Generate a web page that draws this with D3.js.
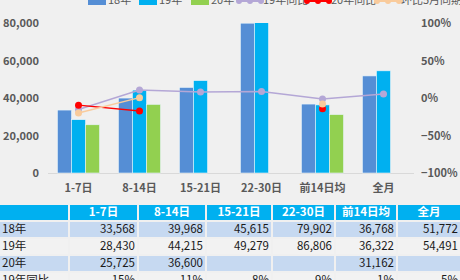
<!DOCTYPE html>
<html>
<head>
<meta charset="utf-8">
<script src="https://cdn.jsdelivr.net/npm/d3@7"></script>
<style>
  body { margin: 0; background: #f0f0f0; }
  svg { display: block; font-family: "Noto Sans CJK SC", "Noto Sans", sans-serif; }
</style>
</head>
<body>
<div id="chart"></div>
<script>
// data
const cats = ['1-7日', '8-14日', '15-21日', '22-30日', '前14日均', '全月'];
const s18 = [33568, 39968, 45615, 79902, 36768, 51772];
const s19 = [28430, 44215, 49279, 86806, 36322, 54491];
const s20 = [25725, 36600, null, null, 31162, null];
const yoy19 = [-0.153, 0.106, 0.080, 0.086, -0.012, 0.052];
const yoy20 = [-0.095, -0.172, null, null, -0.142, null];
const mom = [-0.20, 0.005, null, null, -0.08, null];
const yoy19Text = ['-15%', '11%', '8%', '9%', '-1%', '5%'];
const leftTicks = [0, 20000, 40000, 60000, 80000];
const rightTicks = [-1, -0.5, 0, 0.5, 1];

const barSeries = [
  {name: '18年', values: s18, color: '#558ed5'},
  {name: '19年', values: s19, color: '#00b0f0'},
  {name: '20年', values: s20, color: '#92d050'}
];
const lineSeries = [
  {name: '19年同比', values: yoy19, color: '#b4a7d6'},
  {name: '20年同比', values: yoy20, color: '#ff0000'},
  {name: '环比5月同期', values: mom, color: '#f9cb9c'}
];

const width = 460, height = 280;

const svg = d3.select('#chart')
  .append('svg')
  .attr('width', width)
  .attr('height', height);

svg.append('rect')
  .attr('width', width).attr('height', height)
  .attr('fill', '#f0f0f0');

const x0 = d3.scaleBand()
  .domain(cats)
  .range([48, 414])
  .paddingInner(0.31)
  .paddingOuter(0.155);

const x1 = d3.scaleBand()
  .domain(barSeries.map(d => d.name))
  .range([0, x0.bandwidth()]);

const y = d3.scaleLinear().domain([0, 80000]).range([173, 23]);
const y2 = d3.scaleLinear().domain([-1, 1]).range([173, 23]);

const fmt = d3.format(',');
const pct = d3.format('.0%');

// plot area clip (axis max is 80,000, taller bars get cut)
svg.append('clipPath').attr('id', 'plot')
  .append('rect')
  .attr('x', 40).attr('y', y(80000))
  .attr('width', 380).attr('height', y(0) - y(80000) + 1);

// left axis
svg.append('g')
  .attr('transform', 'translate(39,0)')
  .call(d3.axisLeft(y).tickValues(leftTicks).tickFormat(fmt).tickSize(0).tickPadding(0))
  .call(g => g.select('.domain').remove())
  .selectAll('text')
  .attr('font-size', 11).attr('font-weight', 'bold').attr('fill', '#595959')
  .attr('font-family', '"Noto Sans CJK SC", sans-serif');

// right axis
svg.append('g')
  .attr('transform', 'translate(421,0)')
  .call(d3.axisRight(y2).tickValues(rightTicks).tickFormat(pct).tickSize(0).tickPadding(0))
  .call(g => g.select('.domain').remove())
  .selectAll('text')
  .attr('font-size', 11).attr('font-weight', 'bold').attr('fill', '#595959')
  .attr('font-family', '"Noto Sans CJK SC", sans-serif');

// baseline
svg.append('line')
  .attr('x1', 48).attr('x2', 414)
  .attr('y1', y(0) + 0.5).attr('y2', y(0) + 0.5)
  .attr('stroke', '#d9d9d9');

// bars
const groups = svg.append('g')
  .attr('clip-path', 'url(#plot)')
  .selectAll('g')
  .data(cats)
  .join('g')
  .attr('transform', d => `translate(${x0(d)},0)`);

groups.selectAll('rect')
  .data((d, i) => barSeries.map(s => ({name: s.name, v: s.values[i], color: s.color})).filter(b => b.v != null))
  .join('rect')
  .attr('x', d => x1(d.name))
  .attr('y', d => y(d.v))
  .attr('width', x1.bandwidth())
  .attr('height', d => y(0) - y(d.v))
  .attr('fill', d => d.color)
  .attr('stroke', '#e8f4fb')
  .attr('stroke-width', 0.6);

// category labels
svg.append('g')
  .attr('transform', `translate(0,${y(0)})`)
  .call(d3.axisBottom(x0).tickSize(0).tickPadding(11))
  .call(g => g.select('.domain').remove())
  .selectAll('text')
  .attr('font-size', 11).attr('font-weight', 'bold').attr('fill', '#595959')
  .attr('font-family', '"Noto Sans CJK SC", sans-serif');

// lines
const cx = i => x0(cats[i]) + x0.bandwidth() / 2;
const line = d3.line()
  .defined(d => d != null)
  .x((d, i) => cx(i))
  .y(d => y2(d));

lineSeries.forEach(s => {
  svg.append('path')
    .datum(s.values)
    .attr('fill', 'none')
    .attr('stroke', s.color)
    .attr('stroke-width', 1.5)
    .attr('d', line);
  svg.append('g')
    .selectAll('circle')
    .data(s.values.map((v, i) => ({v, i})).filter(d => d.v != null))
    .join('circle')
    .attr('cx', d => cx(d.i))
    .attr('cy', d => y2(d.v))
    .attr('r', 3.5)
    .attr('fill', s.color);
});

// legend (top edge is cut in the original, like here)
const legend = svg.append('g').attr('font-size', 11).attr('fill', '#595959');
const legendX = [88, 139, 191];
barSeries.forEach((s, i) => {
  legend.append('rect')
    .attr('x', legendX[i]).attr('y', -5)
    .attr('width', 18).attr('height', 10)
    .attr('fill', s.color);
  legend.append('text')
    .attr('x', legendX[i] + 20).attr('y', 1.5)
    .attr('dominant-baseline', 'middle')
    .text(s.name);
});
const legendLX = [239, 307, 377];
lineSeries.forEach((s, i) => {
  const g = legend.append('g').attr('transform', `translate(${legendLX[i]},1)`);
  g.append('line').attr('x1', 0).attr('x2', 22).attr('stroke', s.color).attr('stroke-width', 2);
  [0, 11, 22].forEach(px => g.append('circle').attr('cx', px).attr('r', 3).attr('fill', s.color));
  legend.append('text')
    .attr('x', legendLX[i] + 24).attr('y', 1.5)
    .attr('dominant-baseline', 'middle')
    .text(s.name);
});

// table
const colEdges = [0, 70, 139, 207, 273, 336, 398, 462];
const rowTops = [205, 222, 239, 256, 273];
const rowH = 15;
const rows = [
  {label: '18年', vals: s18.map(v => fmt(v)), bg: '#c6d9f1'},
  {label: '19年', vals: s19.map(v => fmt(v)), bg: '#f2f2f2'},
  {label: '20年', vals: s20.map(v => v == null ? '' : fmt(v)), bg: '#c6d9f1'},
  {label: '19年同比', vals: yoy19Text, bg: '#f2f2f2'}
];

const table = svg.append('g').attr('font-size', 11.5);

// header
colEdges.slice(0, -1).forEach((x, c) => {
  table.append('rect')
    .attr('x', x).attr('y', rowTops[0])
    .attr('width', colEdges[c + 1] - x - 2).attr('height', rowH)
    .attr('fill', '#00b0f0');
  if (c > 0) {
    table.append('text')
      .attr('x', (x + colEdges[c + 1] - 2) / 2).attr('y', rowTops[0] + rowH / 2 + 0.5)
      .attr('text-anchor', 'middle').attr('dominant-baseline', 'middle')
      .attr('fill', '#fff').attr('font-weight', 'bold')
      .text(cats[c - 1]);
  }
});

rows.forEach((r, ri) => {
  const top = rowTops[ri + 1];
  colEdges.slice(0, -1).forEach((x, c) => {
    const w = colEdges[c + 1] - x - 2;
    table.append('rect')
      .attr('x', x).attr('y', top)
      .attr('width', w).attr('height', rowH)
      .attr('fill', r.bg);
    const t = table.append('text')
      .attr('y', top + rowH / 2 + 0.5)
      .attr('dominant-baseline', 'middle')
      .attr('fill', '#1a1a1a');
    if (c === 0) {
      t.attr('x', x + 2).text(r.label);
    } else {
      t.attr('x', x + w - 2).attr('text-anchor', 'end').text(r.vals[c - 1]);
    }
  });
});
</script>
</body>
</html>
